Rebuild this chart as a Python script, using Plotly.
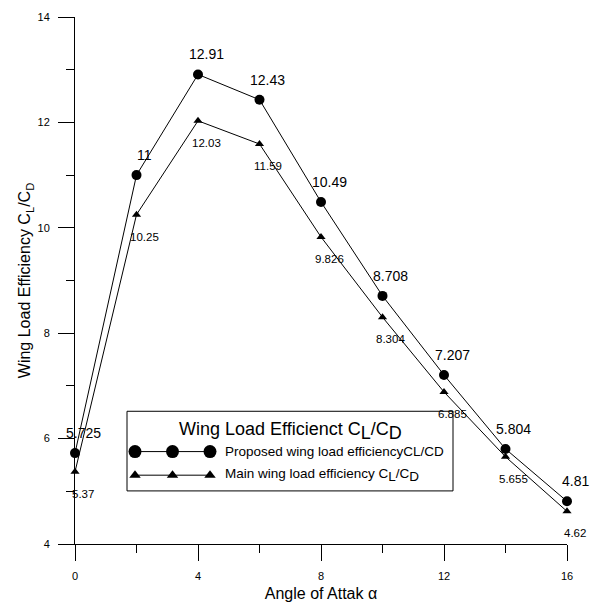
import plotly.graph_objects as go

# ---- data ----
alpha = [0, 2, 4, 6, 8, 10, 12, 14, 16]
proposed = [5.725, 11, 12.91, 12.43, 10.49, 8.708, 7.207, 5.804, 4.81]
main = [5.37, 10.25, 12.03, 11.59, 9.826, 8.304, 6.885, 5.655, 4.62]
proposed_labels = ["5.725", "11", "12.91", "12.43", "10.49", "8.708", "7.207", "5.804", "4.81"]
main_labels = ["5.37", "10.25", "12.03", "11.59", "9.826", "8.304", "6.885", "5.655", "4.62"]
x_ticks = [0, 4, 8, 12, 16]
y_ticks = [4, 6, 8, 10, 12, 14]

legend_title = 'Wing Load Efficienct C<sub><span style="font-size:18px">L</span></sub>/C<sub><span style="font-size:18px">D</span></sub>'
legend_names = [
    "Proposed wing load efficiencyCL/CD",
    'Main wing load efficiency C<sub><span style="font-size:13.5px">L</span></sub>/C<sub><span style="font-size:13.5px">D</span></sub>',
]
x_title = "Angle of Attak α"
y_title = "Wing Load Efficiency C<sub>L</sub>/C<sub>D</sub>"

# ---- layout geometry ----
W, H = 592, 610
ML, MR, MT, MB = 75, 25, 11, 63
FONT = "Arial, Liberation Sans, sans-serif"
PW, PH = W - ML - MR, H - MT - MB


def px2paper(px, py):
    return (px - ML) / PW, (H - MB - py) / PH


LEG_BOX = (127, 412, 453, 493)  # left, top, right, bottom in pixels

fig = go.Figure()
fig.add_trace(go.Scatter(
    x=alpha, y=proposed, mode="lines+markers",
    line=dict(color="black", width=1),
    marker=dict(symbol="circle", size=10, color="black"),
    cliponaxis=False, showlegend=False, hoverinfo="skip"))
fig.add_trace(go.Scatter(
    x=alpha, y=main, mode="lines+markers",
    line=dict(color="black", width=1),
    marker=dict(symbol="triangle-up", size=8, color="black"),
    cliponaxis=False, showlegend=False, hoverinfo="skip"))

annotations = []
for a, v, t in zip(alpha, proposed, proposed_labels):
    annotations.append(dict(x=a, y=v, xref="x", yref="y", text=t, showarrow=False,
                            xshift=8, yshift=20, font=dict(family=FONT, size=14, color="black")))
for a, v, t in zip(alpha, main, main_labels):
    annotations.append(dict(x=a, y=v, xref="x", yref="y", text=t, showarrow=False,
                            xshift=8, yshift=-22, font=dict(family=FONT, size=11.5, color="black")))

# ---- hand-built legend ----
l, tp, r, bt = LEG_BOX
x0p, y0p = px2paper(l, bt)
x1p, y1p = px2paper(r, tp)
shapes = [dict(type="rect", xref="paper", yref="paper", x0=x0p, y0=y0p, x1=x1p, y1=y1p,
               line=dict(color="black", width=1), fillcolor="white", layer="below")]

tx, ty = px2paper((l + r) / 2, tp + 20)
annotations.append(dict(x=tx, y=ty, xref="paper", yref="paper", text=legend_title, showarrow=False,
                        xanchor="center", yanchor="middle", font=dict(family=FONT, size=18, color="black")))
row_y = [tp + 41, tp + 65]
sample_x = [l + 8, l + 45.5, l + 83]
text_x = l + 96
for yy, name in zip(row_y, legend_names):
    ex, ey = px2paper(text_x, yy)
    annotations.append(dict(x=ex, y=ey, xref="paper", yref="paper", text=name, showarrow=False,
                            xanchor="left", yanchor="middle", font=dict(family=FONT, size=13.5, color="black")))

fig.add_trace(go.Scatter(
    x=sample_x, y=[row_y[0]] * 3, xaxis="x2", yaxis="y2", mode="lines+markers",
    line=dict(color="black", width=1), marker=dict(symbol="circle", size=13, color="black"),
    showlegend=False, hoverinfo="skip", cliponaxis=False))
fig.add_trace(go.Scatter(
    x=sample_x, y=[row_y[1]] * 3, xaxis="x2", yaxis="y2", mode="lines+markers",
    line=dict(color="black", width=1), marker=dict(symbol="triangle-up", size=10, color="black"),
    showlegend=False, hoverinfo="skip", cliponaxis=False))

axis_common = dict(showgrid=False, zeroline=False, showline=True, linecolor="black", linewidth=1,
                   ticks="outside", ticklen=16, tickwidth=1, tickcolor="black",
                   tickfont=dict(family=FONT, size=11, color="black"))

fig.update_layout(
    width=W, height=H, margin=dict(l=ML, r=MR, t=MT, b=MB, pad=0),
    paper_bgcolor="white", plot_bgcolor="white",
    xaxis=dict(range=[0, 16], tickvals=x_ticks, ticklabelstandoff=6,
               minor=dict(dtick=2, ticks="outside", ticklen=8, tickcolor="black", tickwidth=1),
               title=dict(text=x_title, font=dict(family=FONT, size=16, color="black"), standoff=6),
               **axis_common),
    yaxis=dict(range=[4, 14], tickvals=y_ticks, ticklabelstandoff=6,
               minor=dict(dtick=1, ticks="outside", ticklen=8, tickcolor="black", tickwidth=1),
               title=dict(text=y_title, font=dict(family=FONT, size=16, color="black"), standoff=2),
               **axis_common),
    xaxis2=dict(range=[ML, W - MR], overlaying="x", anchor="y2", visible=False),
    yaxis2=dict(range=[H - MB, MT], overlaying="y", anchor="x2", visible=False),
    annotations=annotations, shapes=shapes, showlegend=False,
)

fig.write_html("out.html")
